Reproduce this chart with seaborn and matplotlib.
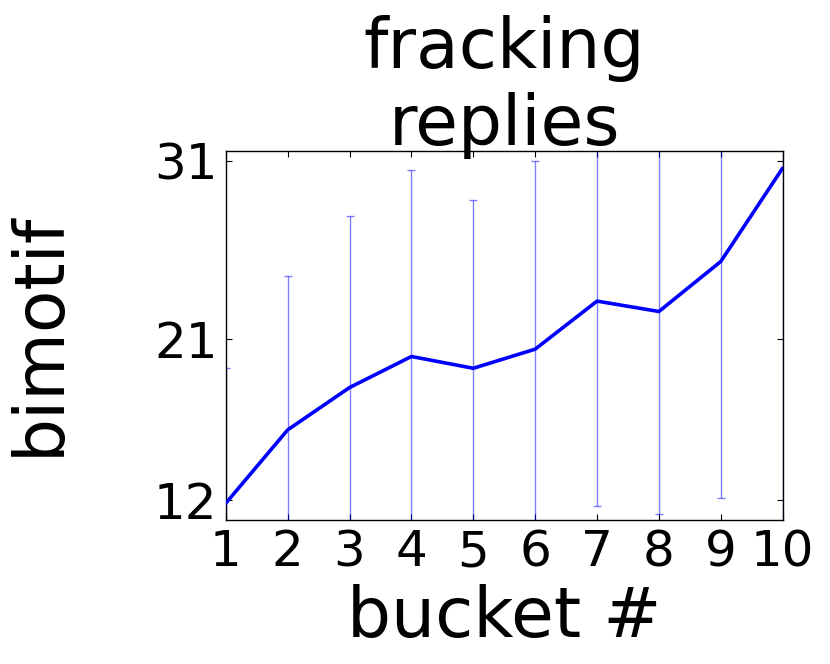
import pandas as pd
import matplotlib
matplotlib.use("Agg")
import matplotlib.pyplot as plt
import seaborn as sns

# values
buckets = [1, 2, 3, 4, 5, 6, 7, 8, 9, 10]
bimotif_mean = [11.81, 15.92, 18.29, 20.03, 19.37, 20.44, 23.13, 22.55, 25.35, 30.58]
bimotif_err = [7.56, 8.63, 9.62, 10.44, 9.43, 10.56, 11.45, 11.34, 13.26, 20.0]
y_ticks = [12, 21, 31]

df = pd.DataFrame({"bucket": buckets, "bimotif": bimotif_mean, "err": bimotif_err})

sns.set_style("ticks")
plt.rcParams["font.family"] = ["DejaVu Sans"]
plt.rcParams.update({
    "xtick.direction": "in",
    "ytick.direction": "in",
    "xtick.top": True,
    "ytick.right": True,
    "xtick.major.size": 4,
    "ytick.major.size": 4,
    "xtick.major.pad": 6,
    "ytick.major.pad": 6,
    "axes.edgecolor": "black",
    "axes.linewidth": 1.0,
    "text.color": "black",
    "axes.labelcolor": "black",
    "xtick.color": "black",
    "ytick.color": "black",
})

fig, ax = plt.subplots(figsize=(8.3, 6.64), dpi=100)
fig.subplots_adjust(left=0.272, right=0.943, top=0.773, bottom=0.217)

ax.errorbar(df["bucket"], df["bimotif"], yerr=df["err"], fmt="none",
            ecolor="blue", alpha=0.5, elinewidth=1, capsize=3, zorder=1)
sns.lineplot(data=df, x="bucket", y="bimotif", color="blue", linewidth=2.6, ax=ax, zorder=3)

ax.set_xlim(1, 10)
ax.set_ylim(10.88, 31.55)
ax.set_xticks(buckets)
ax.set_yticks(y_ticks)
ax.tick_params(labelsize=36)

ax.set_title("fracking\nreplies", fontsize=50, y=1.0, pad=4)
ax.set_xlabel("bucket #", fontsize=50)
ax.set_ylabel("bimotif", fontsize=50)
ax.xaxis.set_label_coords(0.5, -0.173)
ax.yaxis.set_label_coords(-0.275, 0.505)

plt.savefig("out.png", dpi=100)
plt.close()
